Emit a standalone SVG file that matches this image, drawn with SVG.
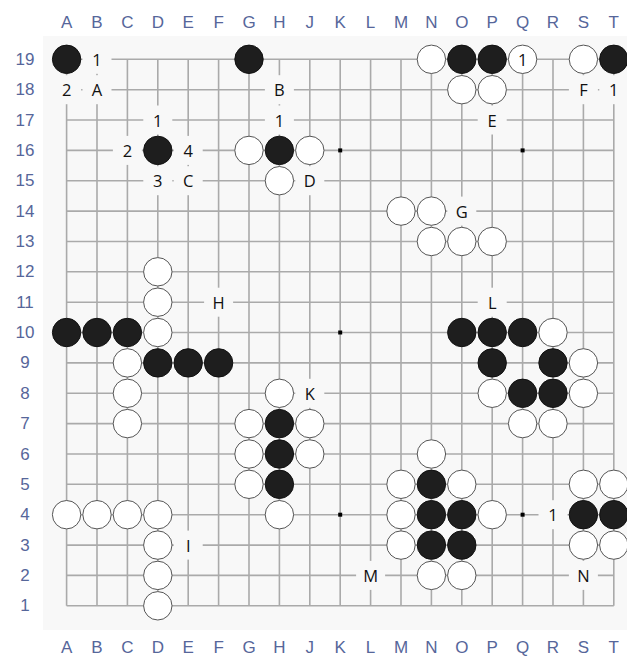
<svg xmlns="http://www.w3.org/2000/svg" width="627" height="656" viewBox="0 0 627 656">
<style>
.coord{font-family:"Liberation Sans",Arial,sans-serif;font-size:17px;fill:#56669a;text-anchor:middle;dominant-baseline:central}
.lbl{font-family:"Open Sans","Liberation Sans",sans-serif;font-size:16.5px;fill:#111;text-anchor:middle;dominant-baseline:central}
.grid{stroke:#aaaaaa;stroke-width:1.6;fill:none}
.b{fill:#1e1e1e;stroke:#111;stroke-width:1}
.w{fill:#ffffff;stroke:#555;stroke-width:1}
.m{fill:#f8f8f8}
.star{fill:#000}
</style>
<rect x="0" y="0" width="627" height="656" fill="#ffffff"/>
<rect x="43" y="36" width="584" height="594" fill="#f8f8f8"/>
<g id="coords">
<g id="cols-top">
<text class="coord" x="66.6" y="22">A</text><text class="coord" x="97" y="22">B</text><text class="coord" x="127.4" y="22">C</text><text class="coord" x="157.8" y="22">D</text><text class="coord" x="188.2" y="22">E</text><text class="coord" x="218.6" y="22">F</text><text class="coord" x="249" y="22">G</text><text class="coord" x="279.4" y="22">H</text><text class="coord" x="309.8" y="22">J</text><text class="coord" x="340.2" y="22">K</text><text class="coord" x="370.6" y="22">L</text><text class="coord" x="401" y="22">M</text><text class="coord" x="431.4" y="22">N</text><text class="coord" x="461.8" y="22">O</text><text class="coord" x="492.2" y="22">P</text><text class="coord" x="522.6" y="22">Q</text><text class="coord" x="553" y="22">R</text><text class="coord" x="583.4" y="22">S</text><text class="coord" x="613.8" y="22">T</text>
</g>
<g id="cols-bottom">
<text class="coord" x="66.6" y="647">A</text><text class="coord" x="97" y="647">B</text><text class="coord" x="127.4" y="647">C</text><text class="coord" x="157.8" y="647">D</text><text class="coord" x="188.2" y="647">E</text><text class="coord" x="218.6" y="647">F</text><text class="coord" x="249" y="647">G</text><text class="coord" x="279.4" y="647">H</text><text class="coord" x="309.8" y="647">J</text><text class="coord" x="340.2" y="647">K</text><text class="coord" x="370.6" y="647">L</text><text class="coord" x="401" y="647">M</text><text class="coord" x="431.4" y="647">N</text><text class="coord" x="461.8" y="647">O</text><text class="coord" x="492.2" y="647">P</text><text class="coord" x="522.6" y="647">Q</text><text class="coord" x="553" y="647">R</text><text class="coord" x="583.4" y="647">S</text><text class="coord" x="613.8" y="647">T</text>
</g>
<g id="rows">
<text class="coord" x="25" y="59.3">19</text><text class="coord" x="25" y="89.7">18</text><text class="coord" x="25" y="120">17</text><text class="coord" x="25" y="150.4">16</text><text class="coord" x="25" y="180.7">15</text><text class="coord" x="25" y="211.1">14</text><text class="coord" x="25" y="241.5">13</text><text class="coord" x="25" y="271.8">12</text><text class="coord" x="25" y="302.2">11</text><text class="coord" x="25" y="332.5">10</text><text class="coord" x="25" y="362.9">9</text><text class="coord" x="25" y="393.3">8</text><text class="coord" x="25" y="423.6">7</text><text class="coord" x="25" y="454">6</text><text class="coord" x="25" y="484.3">5</text><text class="coord" x="25" y="514.7">4</text><text class="coord" x="25" y="545.1">3</text><text class="coord" x="25" y="575.4">2</text><text class="coord" x="25" y="605.8">1</text>
</g>
</g>
<g id="grid">
<path class="grid" d="M66.6 59.3V605.8M97 59.3V605.8M127.4 59.3V605.8M157.8 59.3V605.8M188.2 59.3V605.8M218.6 59.3V605.8M249 59.3V605.8M279.4 59.3V605.8M309.8 59.3V605.8M340.2 59.3V605.8M370.6 59.3V605.8M401 59.3V605.8M431.4 59.3V605.8M461.8 59.3V605.8M492.2 59.3V605.8M522.6 59.3V605.8M553 59.3V605.8M583.4 59.3V605.8M613.8 59.3V605.8"/>
<path class="grid" d="M66.6 59.3H613.8M66.6 89.7H613.8M66.6 120H613.8M66.6 150.4H613.8M66.6 180.7H613.8M66.6 211.1H613.8M66.6 241.5H613.8M66.6 271.8H613.8M66.6 302.2H613.8M66.6 332.5H613.8M66.6 362.9H613.8M66.6 393.3H613.8M66.6 423.6H613.8M66.6 454H613.8M66.6 484.3H613.8M66.6 514.7H613.8M66.6 545.1H613.8M66.6 575.4H613.8M66.6 605.8H613.8"/>
<g id="stars">
<rect class="star" x="338.2" y="148.4" width="4" height="4"/><rect class="star" x="520.6" y="148.4" width="4" height="4"/><rect class="star" x="338.2" y="330.5" width="4" height="4"/><rect class="star" x="338.2" y="512.7" width="4" height="4"/><rect class="star" x="520.6" y="512.7" width="4" height="4"/>
</g>
</g>
<g id="label-masks">
<rect class="m" x="82.5" y="44.8" width="29" height="29"/>
<rect class="m" x="52.1" y="75.2" width="29" height="29"/>
<rect class="m" x="82.5" y="75.2" width="29" height="29"/>
<rect class="m" x="264.9" y="75.2" width="29" height="29"/>
<rect class="m" x="143.3" y="105.5" width="29" height="29"/>
<rect class="m" x="264.9" y="105.5" width="29" height="29"/>
<rect class="m" x="112.9" y="135.9" width="29" height="29"/>
<rect class="m" x="173.7" y="135.9" width="29" height="29"/>
<rect class="m" x="143.3" y="166.2" width="29" height="29"/>
<rect class="m" x="173.7" y="166.2" width="29" height="29"/>
<rect class="m" x="295.3" y="166.2" width="29" height="29"/>
<rect class="m" x="477.7" y="105.5" width="29" height="29"/>
<rect class="m" x="568.9" y="75.2" width="29" height="29"/>
<rect class="m" x="599.3" y="75.2" width="29" height="29"/>
<rect class="m" x="447.3" y="196.6" width="29" height="29"/>
<rect class="m" x="204.1" y="287.7" width="29" height="29"/>
<rect class="m" x="477.7" y="287.7" width="29" height="29"/>
<rect class="m" x="295.3" y="378.8" width="29" height="29"/>
<rect class="m" x="356.1" y="560.9" width="29" height="29"/>
<rect class="m" x="568.9" y="560.9" width="29" height="29"/>
<rect class="m" x="538.5" y="500.2" width="29" height="29"/>
<rect class="m" x="173.7" y="530.6" width="29" height="29"/>
</g>
<g id="black-stones">
<circle id="B-A19" class="b" cx="66.6" cy="59.3" r="14.2"/>
<circle id="B-G19" class="b" cx="249" cy="59.3" r="14.2"/>
<circle id="B-O19" class="b" cx="461.8" cy="59.3" r="14.2"/>
<circle id="B-P19" class="b" cx="492.2" cy="59.3" r="14.2"/>
<circle id="B-T19" class="b" cx="613.8" cy="59.3" r="14.2"/>
<circle id="B-D16" class="b" cx="157.8" cy="150.4" r="14.2"/>
<circle id="B-H16" class="b" cx="279.4" cy="150.4" r="14.2"/>
<circle id="B-A10" class="b" cx="66.6" cy="332.5" r="14.2"/>
<circle id="B-B10" class="b" cx="97" cy="332.5" r="14.2"/>
<circle id="B-C10" class="b" cx="127.4" cy="332.5" r="14.2"/>
<circle id="B-D9" class="b" cx="157.8" cy="362.9" r="14.2"/>
<circle id="B-E9" class="b" cx="188.2" cy="362.9" r="14.2"/>
<circle id="B-F9" class="b" cx="218.6" cy="362.9" r="14.2"/>
<circle id="B-O10" class="b" cx="461.8" cy="332.5" r="14.2"/>
<circle id="B-P10" class="b" cx="492.2" cy="332.5" r="14.2"/>
<circle id="B-Q10" class="b" cx="522.6" cy="332.5" r="14.2"/>
<circle id="B-P9" class="b" cx="492.2" cy="362.9" r="14.2"/>
<circle id="B-R9" class="b" cx="553" cy="362.9" r="14.2"/>
<circle id="B-Q8" class="b" cx="522.6" cy="393.3" r="14.2"/>
<circle id="B-R8" class="b" cx="553" cy="393.3" r="14.2"/>
<circle id="B-H7" class="b" cx="279.4" cy="423.6" r="14.2"/>
<circle id="B-H6" class="b" cx="279.4" cy="454" r="14.2"/>
<circle id="B-H5" class="b" cx="279.4" cy="484.3" r="14.2"/>
<circle id="B-N5" class="b" cx="431.4" cy="484.3" r="14.2"/>
<circle id="B-N4" class="b" cx="431.4" cy="514.7" r="14.2"/>
<circle id="B-O4" class="b" cx="461.8" cy="514.7" r="14.2"/>
<circle id="B-N3" class="b" cx="431.4" cy="545.1" r="14.2"/>
<circle id="B-O3" class="b" cx="461.8" cy="545.1" r="14.2"/>
<circle id="B-S4" class="b" cx="583.4" cy="514.7" r="14.2"/>
<circle id="B-T4" class="b" cx="613.8" cy="514.7" r="14.2"/>
</g>
<g id="white-stones">
<circle id="W-N19" class="w" cx="431.4" cy="59.3" r="14.2"/>
<circle id="W-Q19" class="w" cx="522.6" cy="59.3" r="14.2"/>
<circle id="W-S19" class="w" cx="583.4" cy="59.3" r="14.2"/>
<circle id="W-O18" class="w" cx="461.8" cy="89.7" r="14.2"/>
<circle id="W-P18" class="w" cx="492.2" cy="89.7" r="14.2"/>
<circle id="W-G16" class="w" cx="249" cy="150.4" r="14.2"/>
<circle id="W-J16" class="w" cx="309.8" cy="150.4" r="14.2"/>
<circle id="W-H15" class="w" cx="279.4" cy="180.7" r="14.2"/>
<circle id="W-M14" class="w" cx="401" cy="211.1" r="14.2"/>
<circle id="W-N14" class="w" cx="431.4" cy="211.1" r="14.2"/>
<circle id="W-N13" class="w" cx="431.4" cy="241.5" r="14.2"/>
<circle id="W-O13" class="w" cx="461.8" cy="241.5" r="14.2"/>
<circle id="W-P13" class="w" cx="492.2" cy="241.5" r="14.2"/>
<circle id="W-D12" class="w" cx="157.8" cy="271.8" r="14.2"/>
<circle id="W-D11" class="w" cx="157.8" cy="302.2" r="14.2"/>
<circle id="W-D10" class="w" cx="157.8" cy="332.5" r="14.2"/>
<circle id="W-R10" class="w" cx="553" cy="332.5" r="14.2"/>
<circle id="W-C9" class="w" cx="127.4" cy="362.9" r="14.2"/>
<circle id="W-C8" class="w" cx="127.4" cy="393.3" r="14.2"/>
<circle id="W-C7" class="w" cx="127.4" cy="423.6" r="14.2"/>
<circle id="W-S9" class="w" cx="583.4" cy="362.9" r="14.2"/>
<circle id="W-P8" class="w" cx="492.2" cy="393.3" r="14.2"/>
<circle id="W-S8" class="w" cx="583.4" cy="393.3" r="14.2"/>
<circle id="W-Q7" class="w" cx="522.6" cy="423.6" r="14.2"/>
<circle id="W-R7" class="w" cx="553" cy="423.6" r="14.2"/>
<circle id="W-H8" class="w" cx="279.4" cy="393.3" r="14.2"/>
<circle id="W-G7" class="w" cx="249" cy="423.6" r="14.2"/>
<circle id="W-J7" class="w" cx="309.8" cy="423.6" r="14.2"/>
<circle id="W-G6" class="w" cx="249" cy="454" r="14.2"/>
<circle id="W-J6" class="w" cx="309.8" cy="454" r="14.2"/>
<circle id="W-G5" class="w" cx="249" cy="484.3" r="14.2"/>
<circle id="W-H4" class="w" cx="279.4" cy="514.7" r="14.2"/>
<circle id="W-A4" class="w" cx="66.6" cy="514.7" r="14.2"/>
<circle id="W-B4" class="w" cx="97" cy="514.7" r="14.2"/>
<circle id="W-C4" class="w" cx="127.4" cy="514.7" r="14.2"/>
<circle id="W-D4" class="w" cx="157.8" cy="514.7" r="14.2"/>
<circle id="W-D3" class="w" cx="157.8" cy="545.1" r="14.2"/>
<circle id="W-D2" class="w" cx="157.8" cy="575.4" r="14.2"/>
<circle id="W-D1" class="w" cx="157.8" cy="605.8" r="14.2"/>
<circle id="W-N6" class="w" cx="431.4" cy="454" r="14.2"/>
<circle id="W-M5" class="w" cx="401" cy="484.3" r="14.2"/>
<circle id="W-O5" class="w" cx="461.8" cy="484.3" r="14.2"/>
<circle id="W-M4" class="w" cx="401" cy="514.7" r="14.2"/>
<circle id="W-P4" class="w" cx="492.2" cy="514.7" r="14.2"/>
<circle id="W-M3" class="w" cx="401" cy="545.1" r="14.2"/>
<circle id="W-N2" class="w" cx="431.4" cy="575.4" r="14.2"/>
<circle id="W-O2" class="w" cx="461.8" cy="575.4" r="14.2"/>
<circle id="W-S5" class="w" cx="583.4" cy="484.3" r="14.2"/>
<circle id="W-T5" class="w" cx="613.8" cy="484.3" r="14.2"/>
<circle id="W-S3" class="w" cx="583.4" cy="545.1" r="14.2"/>
<circle id="W-T3" class="w" cx="613.8" cy="545.1" r="14.2"/>
</g>
<g id="labels">
<text class="lbl" x="97" y="59.3">1</text>
<text class="lbl" x="66.6" y="89.7">2</text>
<text class="lbl" x="97" y="89.7">A</text>
<text class="lbl" x="279.4" y="89.7">B</text>
<text class="lbl" x="157.8" y="120">1</text>
<text class="lbl" x="279.4" y="120">1</text>
<text class="lbl" x="127.4" y="150.4">2</text>
<text class="lbl" x="188.2" y="150.4">4</text>
<text class="lbl" x="157.8" y="180.7">3</text>
<text class="lbl" x="188.2" y="180.7">C</text>
<text class="lbl" x="309.8" y="180.7">D</text>
<text class="lbl" x="492.2" y="120">E</text>
<text class="lbl" x="583.4" y="89.7">F</text>
<text class="lbl" x="613.8" y="89.7">1</text>
<text class="lbl" x="522.6" y="59.3">1</text>
<text class="lbl" x="461.8" y="211.1">G</text>
<text class="lbl" x="218.6" y="302.2">H</text>
<text class="lbl" x="492.2" y="302.2">L</text>
<text class="lbl" x="309.8" y="393.3">K</text>
<text class="lbl" x="370.6" y="575.4">M</text>
<text class="lbl" x="583.4" y="575.4">N</text>
<text class="lbl" x="553" y="514.7">1</text>
<text class="lbl" x="188.2" y="545.1">I</text>
</g>
</svg>
